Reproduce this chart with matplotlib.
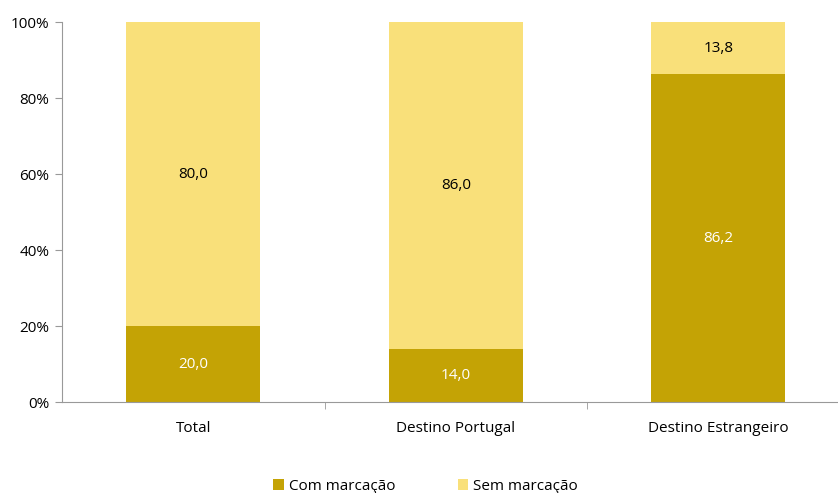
import matplotlib
matplotlib.use("Agg")
import matplotlib.pyplot as plt
from matplotlib.ticker import FuncFormatter

categories = ["Total", "Destino Portugal", "Destino Estrangeiro"]
com_marcacao = [20.0, 14.0, 86.2]
sem_marcacao = [80.0, 86.0, 13.8]
series_names = ["Com marcação", "Sem marcação"]

plt.rcParams['font.family'] = ['Open Sans', 'DejaVu Sans']
dark = "#C4A305"
light = "#F9E07A"

W, H = 838, 493
fig = plt.figure(figsize=(W/100, H/100), dpi=100)
x0, x1 = 62, 849.5
y0, y1 = 402, 22
ax = fig.add_axes([x0/W, 1 - y0/H, (x1-x0)/W, (y0-y1)/H])

xs = list(range(len(categories)))
bw = 134/262.5
ax.bar(xs, com_marcacao, width=bw, color=dark, label=series_names[0])
ax.bar(xs, sem_marcacao, width=bw, bottom=com_marcacao, color=light, label=series_names[1])

fs = 11
for i in xs:
    ax.text(i, com_marcacao[i]/2, f"{com_marcacao[i]:.1f}".replace(".", ","),
            ha="center", va="center", color="white", fontsize=fs)
    ax.text(i, com_marcacao[i] + sem_marcacao[i]/2, f"{sem_marcacao[i]:.1f}".replace(".", ","),
            ha="center", va="center", color="black", fontsize=fs)

ax.set_xlim(-0.5, 2.5)
ax.set_ylim(0, 100)
ax.set_yticks([0, 20, 40, 60, 80, 100])
ax.yaxis.set_major_formatter(FuncFormatter(lambda v, p: f"{int(v)}%"))
ax.set_xticks(xs)
ax.set_xticklabels(categories)
ax.set_xticks([0.5, 1.5], minor=True)
ax.tick_params(axis="x", which="major", length=0, pad=14, labelsize=fs)
ax.tick_params(axis="x", which="minor", length=5, color="#999999")
ax.tick_params(axis="y", length=5, color="#999999", labelsize=fs, pad=4)
for s in ["top", "right"]:
    ax.spines[s].set_visible(False)
for s in ["left", "bottom"]:
    ax.spines[s].set_color("#999999")

fig.legend(loc="center", bbox_to_anchor=(425.5/W, 1 - 486/H), ncol=2, frameon=False,
           handlelength=0.7, handleheight=0.7, handletextpad=0.3, columnspacing=4.1,
           fontsize=fs)

fig.savefig("out.png", dpi=100)
